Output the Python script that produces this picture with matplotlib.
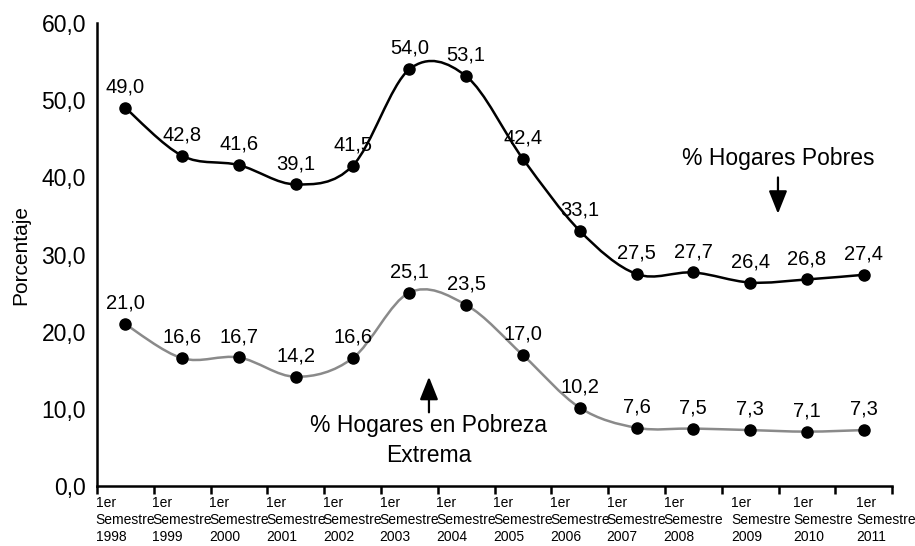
import numpy as np
import matplotlib
matplotlib.use("Agg")
import matplotlib.pyplot as plt
import matplotlib.transforms as mtransforms
from matplotlib.path import Path
from matplotlib.patches import PathPatch

plt.rcParams['font.family'] = ['Liberation Sans', 'DejaVu Sans']

years = ["1998", "1999", "2000", "2001", "2002", "2003", "2004",
         "2005", "2006", "2007", "2008", "2009", "2010", "2011"]
pobres = [49.0, 42.8, 41.6, 39.1, 41.5, 54.0, 53.1, 42.4, 33.1, 27.5, 27.7, 26.4, 26.8, 27.4]
extrema = [21.0, 16.6, 16.7, 14.2, 16.6, 25.1, 23.5, 17.0, 10.2, 7.6, 7.5, 7.3, 7.1, 7.3]
ytick_vals = [0, 10, 20, 30, 40, 50, 60]


def fmt(v):
    return f"{v:.1f}".replace(".", ",")


def smooth_path(x, y):
    pts = np.column_stack([x, y]).astype(float)
    n = len(pts)
    verts = [pts[0]]
    codes = [Path.MOVETO]
    for i in range(n - 1):
        p0 = pts[i - 1] if i > 0 else pts[i]
        p1 = pts[i]
        p2 = pts[i + 1]
        p3 = pts[i + 2] if i + 2 < n else pts[i + 1]
        c1 = p1 + (p2 - p0) / 6.0
        c2 = p2 - (p3 - p1) / 6.0
        verts += [c1, c2, p2]
        codes += [Path.CURVE4] * 3
    return Path(verts, codes)


fig = plt.figure(figsize=(9.15, 5.46), dpi=100)
ax = fig.add_axes([0.106, 0.109, 0.869, 0.849])

x = np.arange(len(years))

ax.add_patch(PathPatch(smooth_path(x, pobres), facecolor='none', edgecolor='black', lw=1.8, zorder=2))
ax.add_patch(PathPatch(smooth_path(x, extrema), facecolor='none', edgecolor='#8a8a8a', lw=1.8, zorder=2))
ax.plot(x, pobres, 'o', color='black', markersize=8, zorder=3)
ax.plot(x, extrema, 'o', color='black', markersize=8, zorder=3)

for xi, v in zip(x, pobres):
    ax.annotate(fmt(v), (xi, v), xytext=(0, 15), textcoords='offset points',
                ha='center', va='center', fontsize=14.5)
for xi, v in zip(x, extrema):
    ax.annotate(fmt(v), (xi, v), xytext=(0, 15), textcoords='offset points',
                ha='center', va='center', fontsize=14.5)

ax.set_xlim(-0.5, len(years) - 0.5)
ax.set_ylim(0, 60)
ax.set_yticks(ytick_vals)
ax.set_yticklabels([fmt(v) for v in ytick_vals], fontsize=16.5)
ax.tick_params(axis='y', length=0, pad=8)

ax.set_xticks(np.arange(-0.5, len(years), 1.0))
ax.set_xticklabels([])
ax.tick_params(axis='x', which='major', length=6, width=1.8, direction='out')
ax.set_xticks(x, minor=True)
ax.set_xticklabels(["1er\nSemestre\n" + y for y in years], minor=True, fontsize=10,
                   multialignment='left', linespacing=1.25)
ax.tick_params(axis='x', which='minor', length=0, pad=7)

# last labels sit further right in the reference
shifts_px = {11: 11, 12: 16, 13: 22}
for i, lab in enumerate(ax.get_xticklabels(minor=True)):
    if i in shifts_px:
        lab.set_transform(lab.get_transform() +
                          mtransforms.ScaledTranslation(shifts_px[i] / 100.0, 0, fig.dpi_scale_trans))

for s in ['top', 'right']:
    ax.spines[s].set_visible(False)
for s in ['left', 'bottom']:
    ax.spines[s].set_linewidth(1.8)

ax.set_ylabel("Porcentaje", fontsize=15, labelpad=8)

arrow_style = '-|>,head_length=0.7,head_width=0.28'
ax.annotate("", xy=(11.49, 35.3), xytext=(11.49, 40.0),
            arrowprops=dict(arrowstyle=arrow_style, lw=1.6, color='black',
                            mutation_scale=20, shrinkA=0, shrinkB=0))
ax.text(11.49, 42.4, "% Hogares Pobres", ha='center', va='center', fontsize=16.5)

ax.annotate("", xy=(5.345, 14.2), xytext=(5.345, 9.6),
            arrowprops=dict(arrowstyle=arrow_style, lw=1.6, color='black',
                            mutation_scale=20, shrinkA=0, shrinkB=0))
ax.text(5.345, 5.97, "% Hogares en Pobreza\nExtrema", ha='center', va='center',
        fontsize=16.5, linespacing=1.4)

fig.savefig("out.png", dpi=100)
